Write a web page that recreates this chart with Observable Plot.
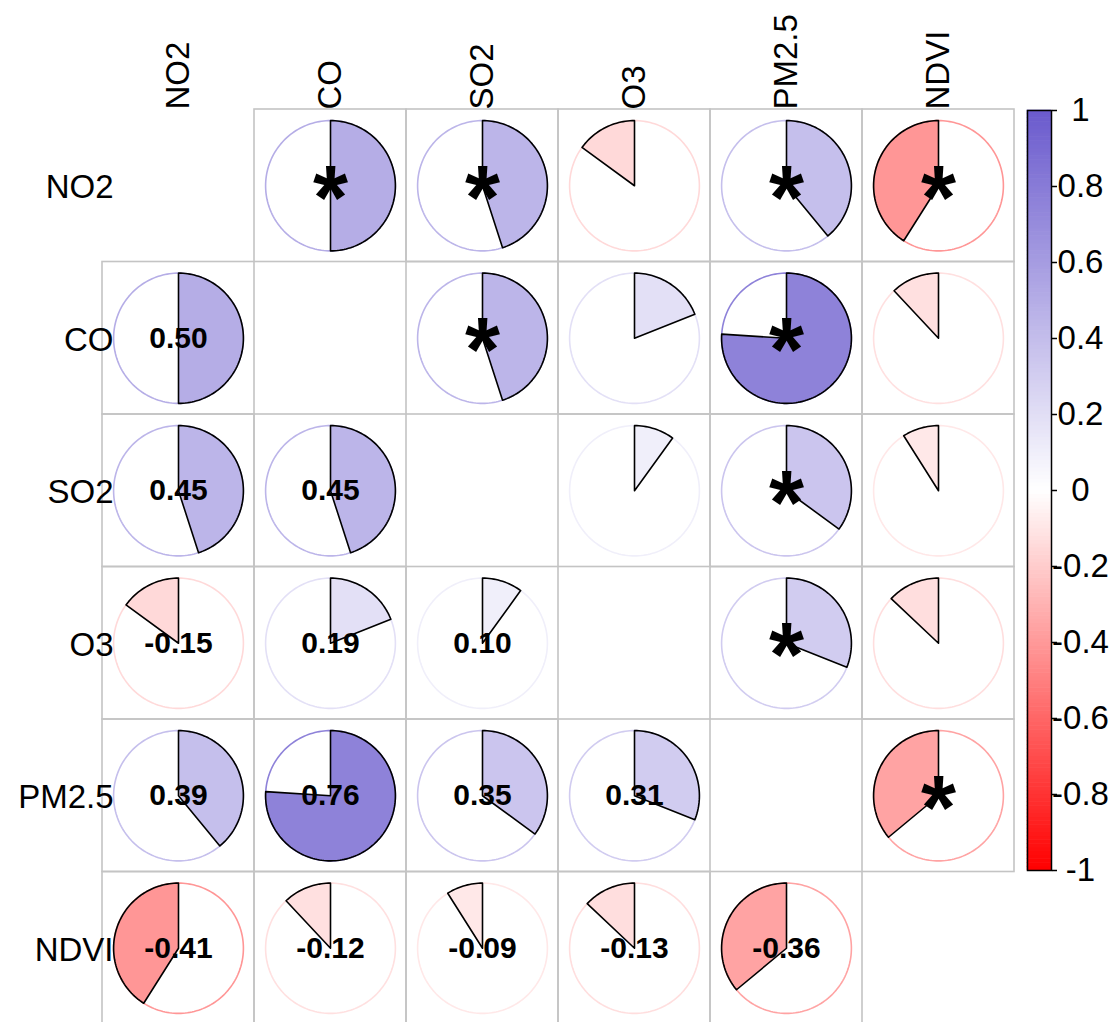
<!DOCTYPE html>
<html>
<head>
<meta charset="utf-8">
<script src="https://cdn.jsdelivr.net/npm/d3@7"></script>
<script src="https://cdn.jsdelivr.net/npm/@observablehq/plot@0.6"></script>
<style>
  html, body { margin: 0; padding: 0; background: #fff; overflow: hidden; }
  #wrap { position: relative; width: 1115px; height: 1022px; }
  #wrap svg { position: absolute; left: 0; top: 0; }
</style>
</head>
<body>
<div id="wrap"></div>
<script>
// ---- data ----
const variables = ["NO2", "CO", "SO2", "O3", "PM2.5", "NDVI"];
// lower triangle correlation coefficients (row i, columns 0..i-1)
const corrLower = [
  [],
  [0.50],
  [0.45, 0.45],
  [-0.15, 0.19, 0.10],
  [0.39, 0.76, 0.35, 0.31],
  [-0.41, -0.12, -0.09, -0.13, -0.36]
];
// significant pairs (shown with * in the upper triangle)
const significantPairs = [
  ["NO2", "CO"], ["NO2", "SO2"], ["NO2", "PM2.5"], ["NO2", "NDVI"],
  ["CO", "SO2"], ["CO", "PM2.5"],
  ["SO2", "PM2.5"],
  ["O3", "PM2.5"],
  ["PM2.5", "NDVI"]
];
const colorbarTicks = [1, 0.8, 0.6, 0.4, 0.2, 0, -0.2, -0.4, -0.6, -0.8, -1];

// ---- build tables ----
const n = variables.length;
const corr = (i, j) => (i > j ? corrLower[i][j] : corrLower[j][i]);
const sigSet = new Set(significantPairs.map(([a, b]) => variables.indexOf(a) + "-" + variables.indexOf(b)));

const cells = [];
for (let i = 0; i < n; i++) for (let j = 0; j < n; j++) {
  if (i === j) continue;
  cells.push({i, j, v: corr(i, j), id: i + "-" + j, lower: i > j, sig: sigSet.has(i + "-" + j)});
}

const R = 0.427; // pie radius in cell units
const circlePts = [];
const wedgePts = [];
for (const c of cells) {
  const cx = c.j + 0.5, cy = c.i + 0.5;
  for (let k = 0; k < 180; k++) {
    const t = (k / 180) * 2 * Math.PI;
    circlePts.push({id: c.id, v: c.v, x: cx + R * Math.sin(t), y: cy - R * Math.cos(t)});
  }
  const ang = c.v * 2 * Math.PI;
  const steps = Math.max(2, Math.ceil(Math.abs(c.v) * 180));
  wedgePts.push({id: c.id, v: c.v, x: cx, y: cy});
  for (let k = 0; k <= steps; k++) {
    const t = (k / steps) * ang;
    wedgePts.push({id: c.id, v: c.v, x: cx + R * Math.sin(t), y: cy - R * Math.cos(t)});
  }
}

const colorScale = {
  type: "linear",
  domain: [-1, 0, 1],
  range: ["#FF0000", "#FFFFFF", "#6A5ACD"],
  interpolate: "rgb"
};
const font = "'Liberation Sans', Arial, Helvetica, sans-serif";

const main = Plot.plot({
  width: 1115,
  height: 1022,
  marginTop: 0, marginBottom: 0, marginLeft: 0, marginRight: 0,
  x: {domain: [0, 6], range: [102, 1014], axis: null},
  y: {domain: [0, 6], range: [109, 1024], axis: null},
  color: colorScale,
  style: {fontFamily: font, background: "white", overflow: "visible"},
  marks: [
    Plot.rect(cells, {x1: "j", x2: d => d.j + 1, y1: "i", y2: d => d.i + 1,
      fill: "none", stroke: "#c4c4c4", strokeWidth: 1.6}),
    Plot.line(circlePts, {x: "x", y: "y", z: "id", stroke: "v", strokeWidth: 1.6, curve: "linear-closed"}),
    Plot.line(wedgePts, {x: "x", y: "y", z: "id", fill: "v", stroke: "black", strokeWidth: 1.6, curve: "linear-closed"}),
    Plot.text(cells.filter(d => d.lower), {x: d => d.j + 0.5, y: d => d.i + 0.5,
      text: d => d.v.toFixed(2), fontWeight: "bold", fontSize: 30, fill: "black"}),
    Plot.text(cells.filter(d => !d.lower && d.sig), {x: d => d.j + 0.5, y: d => d.i + 0.5,
      text: () => "*", fontWeight: "bold", fontSize: 90, dy: 14, fill: "black"}),
    Plot.text(variables, {x: 0, y: (d, i) => i + 0.5, text: d => d, textAnchor: "end",
      dx: 11, dy: 2, fontSize: 33, fill: "black"}),
    Plot.text(variables, {x: (d, i) => i + 0.5, y: 0, text: d => d, rotate: -90, textAnchor: "start",
      dy: 0, fontSize: 33, fill: "black"})
  ]
});

// ---- colorbar ----
const barSteps = d3.range(0, 200).map(k => ({lo: -1 + k * 0.01, hi: -1 + (k + 1) * 0.01}));
const bar = Plot.plot({
  width: 1115,
  height: 1022,
  marginLeft: 1027, marginRight: 64, marginTop: 110, marginBottom: 152,
  x: {domain: [0, 1], axis: null},
  y: {domain: [-1, 1], axis: null},
  color: colorScale,
  style: {fontFamily: font, background: "transparent", overflow: "visible"},
  marks: [
    Plot.rect(barSteps, {x1: 0, x2: 1, y1: "lo", y2: "hi", fill: d => (d.lo + d.hi) / 2, inset: -0.3}),
    Plot.frame({stroke: "black", strokeWidth: 1.5}),
    Plot.axisY({anchor: "right", ticks: colorbarTicks, tickFormat: d => String(d),
      tickSize: 5, tickPadding: 24, textAnchor: "middle", fontSize: 33, stroke: "black",
      strokeWidth: 1.5, fill: "black"})
  ]
});

const wrap = document.getElementById("wrap");
wrap.appendChild(main);
wrap.appendChild(bar);
</script>
</body>
</html>
